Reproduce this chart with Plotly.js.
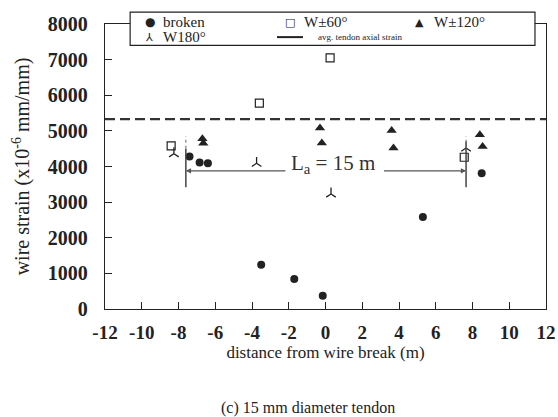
<!DOCTYPE html>
<html><head><meta charset="utf-8">
<script src="https://cdn.plot.ly/plotly-3.0.1.min.js"></script>
<style>body{margin:0;background:#fff}#c{width:558px;height:417px}</style>
</head><body><div id="c"></div>
<script>
// data
var brokenX = [-7.4, -6.85, -6.4, -3.5, -1.7, -0.15, 5.3, 8.5];
var brokenY = [4280, 4110, 4090, 1240, 840, 370, 2580, 3810];
var w60X = [-8.4, -3.6, 0.25, 7.55];
var w60Y = [4580, 5780, 7050, 4260];
var w120X = [-6.7, -6.65, -0.3, -0.2, 3.6, 3.7, 8.4, 8.55];
var w120Y = [4780, 4650, 5080, 4660, 5010, 4520, 4890, 4560];
var w180X = [-8.25, -3.75, 0.3, 7.65];
var w180Y = [4360, 4090, 3230, 4520];
var avgX = [-12, 12];
var avgY = [5330, 5330];
var xTicks = [-12,-10,-8,-6,-4,-2,0,2,4,6,8,10,12];
var yTicks = [0,1000,2000,3000,4000,5000,6000,7000,8000];
var legendNames = ['broken', 'W±60°', 'W±120°', 'W180°', 'avg. tendon axial strain'];
var legendGlyphs = ['●', '□', '▲', '⅄', ''];
// annotation / legend geometry (paper & data coords)
var La = {left: -7.6, right: 7.65, y: 3880, textX: 0.4, textY: 4060, lo: 3420, hi: 4850, dotFrom: 4500, arrowL: -2.1, arrowR: 3.1};
var lg = {x0:0.057, x1:0.975, y0:0.925, y1:1.042, rows:[1.007, 0.954],
  symX:[0.102, 0.4195, 0.714], txtX:[0.128, 0.447, 0.742], lineX:[0.39, 0.449], lineTxtX:0.478};

var serif = 'Liberation Serif';
var ink = '#222';
var traces = [
 {x: brokenX, y: brokenY, mode:'markers', name:legendNames[0], marker:{symbol:'circle', size:8, color:ink}},
 {x: w60X, y: w60Y, mode:'markers', name:legendNames[1], marker:{symbol:'square-open', size:8, color:ink, line:{width:1.2}}},
 {x: w120X, y: w120Y, mode:'markers', name:legendNames[2], marker:{symbol:'triangle-up', size:9, color:ink}},
 {x: w180X, y: w180Y, mode:'markers', name:legendNames[3], marker:{symbol:'y-up-open', size:8, color:ink, line:{width:1.3, color:ink}}},
 {x: avgX, y: avgY, mode:'lines', name:legendNames[4], line:{color:'#333', width:2.2, dash:'10px,5px'}}
];
var ann = [
  {x:La.left, y:La.y, ax:La.arrowL, ay:La.y, xref:'x', yref:'y', axref:'x', ayref:'y', text:'', showarrow:true, arrowhead:2, arrowsize:0.8, arrowwidth:1.3, arrowcolor:'#555'},
  {x:La.right, y:La.y, ax:La.arrowR, ay:La.y, xref:'x', yref:'y', axref:'x', ayref:'y', text:'', showarrow:true, arrowhead:2, arrowsize:0.8, arrowwidth:1.3, arrowcolor:'#555'},
  {x:La.textX, y:La.textY, xref:'x', yref:'y', text:'L<sub>a</sub> = 15 m', showarrow:false, font:{size:21, family:serif, color:'#333'}},
  {x:0.46, y:-0.31, xref:'paper', yref:'paper', yanchor:'top', text:'(c) 15 mm diameter tendon', showarrow:false, font:{size:16, family:serif, color:ink}}
];
// legend entries (grid of 3 columns)
for (var i = 0; i < 4; i++) {
  var col = i % 3, row = Math.floor(i / 3);
  ann.push({x:lg.symX[col], y:lg.rows[row], xref:'paper', yref:'paper', xanchor:'center', yanchor:'middle', text:legendGlyphs[i], showarrow:false,
    font:{size: i===0 ? 12 : 11, family:'DejaVu Sans', color:ink}});
  ann.push({x:lg.txtX[col], y:lg.rows[row], xref:'paper', yref:'paper', xanchor:'left', yanchor:'middle', text:legendNames[i], showarrow:false,
    font:{size:15, family:serif, color:ink}});
}
ann.push({x:lg.lineTxtX, y:lg.rows[1], xref:'paper', yref:'paper', xanchor:'left', yanchor:'middle', text:legendNames[4], showarrow:false,
  font:{size:9, family:serif, color:ink}});

var layout = {
 width:558, height:417,
 margin:{l:105, r:12, t:24, b:108},
 paper_bgcolor:'#fff', plot_bgcolor:'#fff',
 font:{family:serif, color:ink},
 showlegend:false,
 xaxis:{range:[-12,12], tickvals:xTicks, ticktext:xTicks.map(String), ticks:'inside', ticklen:7, tickcolor:ink,
   showline:true, linecolor:ink, linewidth:1.2, mirror:true, showgrid:false, zeroline:false,
   tickfont:{size:19, family:serif, weight:'bold'}, ticklabelstandoff:6,
   title:{text:'distance from wire break (m)', font:{size:17, family:serif}, standoff:3}},
 yaxis:{range:[0,8000], tickvals:yTicks, ticktext:yTicks.map(String), ticks:'inside', ticklen:7, tickcolor:ink,
   showline:true, linecolor:ink, linewidth:1.2, mirror:true, showgrid:false, zeroline:false,
   tickfont:{size:20, family:serif, weight:'bold'}, ticklabelstandoff:12,
   title:{text:'wire strain (x10<sup>-6</sup> mm/mm)', font:{size:20, family:serif}, standoff:12}},
 shapes:[
  {type:'line', xref:'x', yref:'y', x0:La.left, x1:La.left, y0:La.lo, y1:La.dotFrom, line:{color:'#444', width:1.5}},
  {type:'line', xref:'x', yref:'y', x0:La.left, x1:La.left, y0:La.dotFrom, y1:La.hi, line:{color:'#666', width:1, dash:'dot'}},
  {type:'line', xref:'x', yref:'y', x0:La.right, x1:La.right, y0:La.lo, y1:La.dotFrom, line:{color:'#444', width:1.5}},
  {type:'line', xref:'x', yref:'y', x0:La.right, x1:La.right, y0:La.dotFrom, y1:La.hi, line:{color:'#666', width:1, dash:'dot'}},
  {type:'rect', xref:'paper', yref:'paper', x0:lg.x0, x1:lg.x1, y0:lg.y0, y1:lg.y1, fillcolor:'#fff', line:{color:ink, width:1.2}, layer:'above'},
  {type:'line', xref:'paper', yref:'paper', x0:lg.lineX[0], x1:lg.lineX[1], y0:lg.rows[1], y1:lg.rows[1], line:{color:ink, width:2}, layer:'above'}
 ],
 annotations: ann
};
Plotly.newPlot('c', traces, layout, {displayModeBar:false, staticPlot:true});
</script></body></html>
